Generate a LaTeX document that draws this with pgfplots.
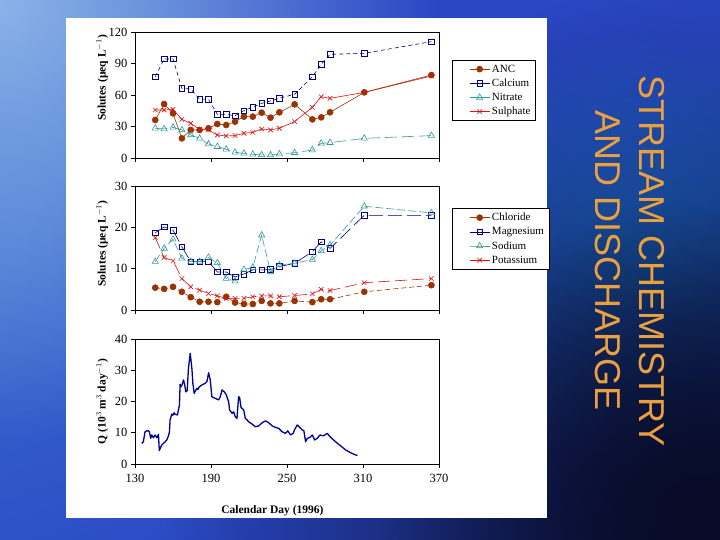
\documentclass[border=0pt]{standalone}
\usepackage{pgfplots}
\pgfplotsset{compat=1.18}
\usepackage{fontspec}
\setmainfont{Liberation Serif}
\newfontfamily\arialfont{Liberation Sans}
\usetikzlibrary{fadings}
\definecolor{brn}{HTML}{993300}
\definecolor{nvy}{HTML}{000080}
\definecolor{tea}{HTML}{339999}
\definecolor{rd}{HTML}{DD1111}
\definecolor{ttl}{HTML}{EBA040}
\definecolor{bgbase}{HTML}{2A47C4}
\definecolor{bglight}{HTML}{8AB4E8}
\definecolor{bgleft}{HTML}{3A6CD0}
\definecolor{bgglow}{HTML}{1E7AE0}
\definecolor{bgdark}{HTML}{080C28}
\definecolor{qline}{HTML}{000099}
\tikzfading[name=glow, inner color=transparent!0, outer color=transparent!100]

\pgfplotsset{
  panel/.style={
    scale only axis, width=304pt,
    xmin=130, xmax=370, xtick={130,190,250,310,370},
    tick align=outside, major tick length=4pt,
    xtick pos=bottom, ytick pos=left,
    tick style={black, line width=0.6pt},
    axis line style={black, line width=0.8pt},
    ticklabel style={font=\fontsize{12.5}{14}\selectfont},
    /pgf/number format/assume math mode=true,
    ylabel style={font=\fontsize{11.5}{13}\selectfont\bfseries, anchor=center},
    legend cell align=left,
    legend image code/.code={\path (0pt,0pt); \draw[mark repeat=2,mark phase=2,##1,solid] plot coordinates {(14pt,0pt)(24pt,0pt)(34pt,0pt)};},
    legend style={draw=black, line width=0.6pt, fill=white, font=\fontsize{11}{12.5}\selectfont,
      inner xsep=3pt, inner ysep=2.5pt, row sep=1.2pt, anchor=north west,
      /tikz/every even column/.append style={column sep=4pt}},
  },
  sA/.style={brn, line width=0.6pt, mark=*, mark size=3pt, mark options={solid, fill=brn}},
  sB/.style={nvy, line width=0.6pt, dash pattern=on 4pt off 3pt, mark=square, mark size=2.8pt, mark options={solid, fill=white}},
  sC/.style={tea, line width=0.6pt, dash pattern=on 12pt off 5pt, mark=triangle, mark size=3.6pt, mark options={solid, fill=white}},
  sD/.style={rd, line width=0.6pt, mark=x, mark size=3.2pt, mark options={solid}},
}

\begin{document}
\begin{tikzpicture}
% background
\fill[bgbase] (0pt,0pt) rectangle (720pt,540pt);
\begin{scope}
\clip (0pt,0pt) rectangle (720pt,540pt);
\fill[bgleft, path fading=glow] (-40pt,300pt) circle (420pt);
\fill[bglight, path fading=glow] (0pt,540pt) circle (440pt);
\fill[bgglow, path fading=glow] (650pt,280pt) circle (230pt);
\fill[bgdark, path fading=glow] (720pt,0pt) circle (560pt);
\fill[bgdark, path fading=glow] (700pt,20pt) circle (320pt);
\end{scope}
% white panel
\fill[white] (66pt,22pt) rectangle (547pt,522pt);

% title
\node[rotate=-90, align=center, text=ttl, font=\arialfont\fontsize{36}{44}\selectfont] at (630pt,279pt) {STREAM CHEMISTRY\\AND DISCHARGE};

% ---------- top panel
\begin{axis}[panel, at={(135pt,382pt)}, anchor=south west, height=126pt,
  ymin=0, ymax=120, ytick={0,30,60,90,120}, xticklabels={},
  ylabel={Solutes (µeq L$^{-1}$)},
  ylabel style={at={(axis description cs:-0.108,0.635)}},
  legend style={at={(axis description cs:1.043,0.778)}}]
\addplot[sA] coordinates {(146,36.2)(153,51.4)(160,42.5)(167,18.7)(174,26.7)(181,26.7)(188,28.3)(195,32.4)(202,31.4)(209,34.6)(216,39.4)(223,39.4)(230,43.2)(237,38.4)(244,43.5)(256,51.1)(270,36.8)(277,38.7)(284,43.5)(311,62.5)(364,79.0)};
\addplot[sB] coordinates {(146,77.4)(153,94.3)(160,94.3)(167,66.4)(174,65.7)(181,56.0)(188,56.0)(195,41.6)(202,41.6)(209,40.3)(216,45.1)(223,48.3)(230,52.1)(237,54.3)(244,56.9)(256,60.7)(270,77.4)(277,89.2)(284,98.7)(311,99.7)(364,110.8)};
\addplot[sC] coordinates {(146,28.3)(153,27.6)(160,29.2)(167,26.7)(174,21.9)(181,18.7)(188,13.3)(195,10.8)(202,8.3)(209,5.4)(216,4.4)(223,3.5)(230,2.9)(237,2.9)(244,3.8)(256,5.0)(270,7.6)(277,14.0)(284,14.6)(311,18.7)(364,21.3)};
\addplot[sD] coordinates {(146,45.7)(153,45.7)(160,46.3)(167,36.8)(174,33.0)(181,27.3)(188,26.7)(195,21.9)(202,21.0)(209,21.3)(216,23.5)(223,24.4)(230,27.6)(237,26.7)(244,28.3)(256,34.6)(270,48.3)(277,58.4)(284,56.8)(311,62.5)(364,78.1)};
\legend{ANC,Calcium,Nitrate,Sulphate}
\end{axis}

% ---------- middle panel
\begin{axis}[panel, at={(135pt,230pt)}, anchor=south west, height=124pt,
  ymin=0, ymax=30, ytick={0,10,20,30}, xticklabels={},
  ylabel={Solutes (µeq L$^{-1}$)},
  ylabel style={at={(axis description cs:-0.108,0.535)}},
  legend style={at={(axis description cs:1.043,0.82)}}]
\addplot[sA, dash pattern=on 5pt off 3pt] coordinates {(146,5.4)(153,5.1)(160,5.6)(167,4.4)(174,3.1)(181,2.0)(188,2.0)(195,1.9)(202,3.2)(209,1.8)(216,1.45)(223,1.45)(230,2.2)(237,1.6)(244,1.6)(256,2.2)(270,1.9)(277,2.6)(284,2.6)(311,4.4)(364,6.0)};
\addplot[sB, dash pattern=on 14pt off 5pt] coordinates {(146,18.7)(153,20.1)(160,19.3)(167,15.3)(174,11.7)(181,11.7)(188,11.7)(195,9.2)(202,9.2)(209,8.0)(216,8.7)(223,9.7)(230,9.7)(237,9.8)(244,10.5)(256,11.3)(270,14.1)(277,16.5)(284,14.9)(311,22.9)(364,22.9)};
\addplot[sC, dash pattern=on 8pt off 3pt] coordinates {(146,11.7)(153,14.9)(160,17.1)(167,12.5)(174,11.7)(181,11.7)(188,12.7)(195,11.4)(202,7.6)(209,7.0)(216,9.8)(223,10.3)(230,18.1)(237,9.2)(244,10.9)(256,11.3)(270,12.2)(277,14.3)(284,15.7)(311,25.1)(364,23.5)};
\addplot[sD, dash pattern=on 12pt off 5pt] coordinates {(146,17.5)(153,12.7)(160,11.9)(167,7.6)(174,5.6)(181,4.8)(188,4.0)(195,3.4)(202,2.8)(209,2.8)(216,2.8)(223,3.2)(230,3.4)(237,3.4)(244,3.2)(256,3.5)(270,3.9)(277,5.0)(284,4.7)(311,6.6)(364,7.6)};
\legend{Chloride,Magnesium,Sodium,Potassium}
\end{axis}

% ---------- bottom panel
\begin{axis}[panel, at={(135pt,76pt)}, anchor=south west, height=125pt,
  ymin=0, ymax=40, ytick={0,10,20,30,40},
  ylabel={Q (10$^{3}$ m$^{3}$ day$^{-1}$)},
  ylabel style={at={(axis description cs:-0.108,0.5)}},
  xlabel={Calendar Day (1996)},
  xlabel style={at={(axis description cs:0.452,-0.376)}, anchor=center, font=\fontsize{11.5}{13}\selectfont\bfseries},
  xticklabel style={yshift=-3pt}]
\addplot[qline, line width=1.3pt, line join=round] coordinates {(135.3,6.6)(136.6,7.1)(137.9,10.3)(139.2,10.6)(140.5,10.6)(141.3,10.4)(142.4,8.2)(143.2,9.3)(144.5,8.4)(145.8,9.3)(147.2,8.4)(148.5,9.5)(149.2,4.3)(151.1,6.1)(152.4,6.6)(153.6,7.0)(155.1,7.7)(156.4,9.0)(157.2,10.3)(157.7,14.1)(159.1,16.0)(159.9,15.6)(160.9,16.4)(161.7,15.9)(163.5,15.7)(165.1,18.9)(165.6,25.5)(166.2,24.7)(167.0,25.2)(168.3,26.9)(169.2,25.4)(170.1,23.1)(171.2,23.5)(172.2,30.6)(173.6,35.4)(174.9,30.6)(175.7,25.8)(176.7,22.6)(178.8,24.2)(179.7,23.9)(180.8,24.7)(182.8,25.3)(185.4,25.8)(186.8,26.4)(188.1,29.2)(189.4,26.9)(190.7,21.5)(193.4,21.0)(196,20.5)(197.3,21.5)(198.7,23.7)(200.5,23.1)(202.1,22.1)(203.9,19.9)(204.7,17.3)(206.6,16.2)(207.9,16.7)(209.2,15.1)(210.5,14.6)(211.8,21.5)(212.6,21.3)(213.7,18.1)(215.8,17.3)(217.1,14.6)(218.5,14.1)(219.7,13.5)(222.4,12.8)(225,11.9)(227.7,12.2)(230.4,13.2)(233,13.8)(235.6,13.2)(238.3,12.2)(240.9,11.7)(243.5,11.4)(246.2,10.3)(248.8,9.8)(250.6,10.6)(252.8,9.3)(254.9,9.8)(255.9,10.9)(258.1,12.5)(260.1,11.7)(262,10.9)(263.3,10.7)(264.7,7.1)(266,8.2)(268.1,8.5)(270,9.3)(271.8,7.7)(273.9,8.2)(276,9.3)(278.7,9.0)(281.8,9.8)(284.5,8.5)(288.4,7.1)(292.4,5.8)(296.3,4.5)(300.3,3.6)(302.9,3.1)(305.6,2.7)};
\end{axis}
\end{tikzpicture}
\end{document}
